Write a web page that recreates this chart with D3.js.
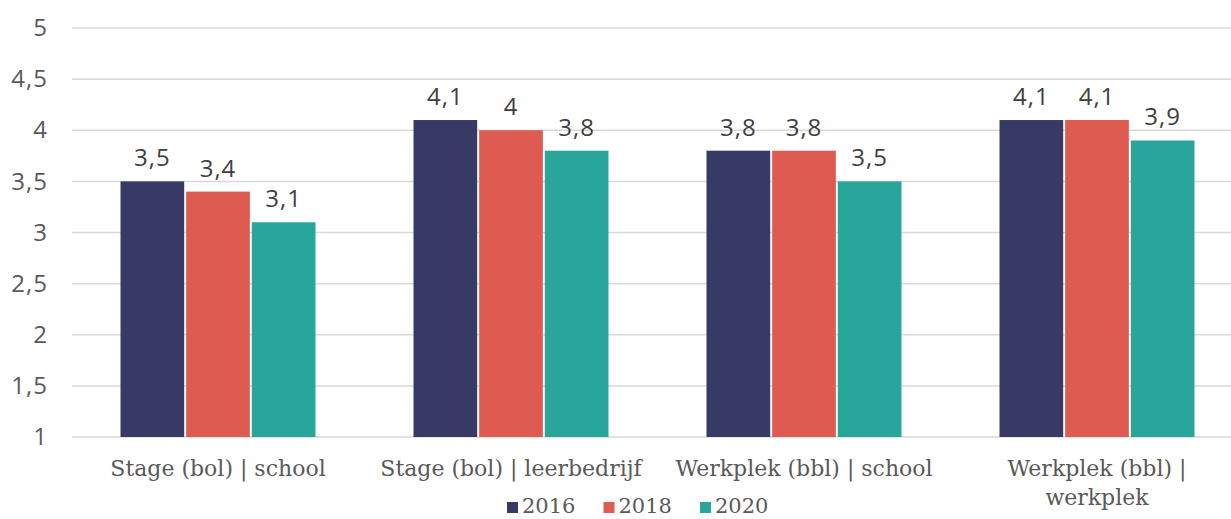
<!DOCTYPE html>
<html>
<head>
<meta charset="utf-8">
<script src="https://cdn.jsdelivr.net/npm/d3@7"></script>
<style>
  body { margin: 0; background: #fff; }
  svg { display: block; }
</style>
</head>
<body>
<div id="chart"></div>
<script>
'use strict';

var categories = [
    ['Stage (bol) | school'],
    ['Stage (bol) | leerbedrijf'],
    ['Werkplek (bbl) | school'],
    ['Werkplek (bbl) |', 'werkplek']
];
var years = ['2016', '2018', '2020'];
var values2016 = [3.5, 4.1, 3.8, 4.1];
var values2018 = [3.4, 4.0, 3.8, 4.1];
var values2020 = [3.1, 3.8, 3.5, 3.9];
var yTicks = [1, 1.5, 2, 2.5, 3, 3.5, 4, 4.5, 5];
var colors = ['#383a66', '#de5b51', '#29a69b'];

var series = [values2016, values2018, values2020];
var width = 1231;
var height = 519;
var sansFont = '"Open Sans", "Noto Sans", sans-serif';
var serifFont = '"DejaVu Serif", "Liberation Serif", serif';

var svg = d3.select('#chart').append('svg')
    .attr('width', width)
    .attr('height', height);

var x0 = d3.scaleBand()
    .domain(d3.range(categories.length))
    .range([71.5, 1243.5]);

var x1 = d3.scaleBand()
    .domain(d3.range(years.length))
    .range([0, 195])
    .paddingInner(0.03);

var y = d3.scaleLinear()
    .domain([1, 5])
    .range([437, 28]);

var comma = function (v) { return String(v).replace('.', ','); };

// gridlines
svg.append('g')
    .selectAll('line')
    .data(yTicks)
    .join('line')
    .attr('x1', 72)
    .attr('x2', width)
    .attr('y1', function (d) { return y(d); })
    .attr('y2', function (d) { return y(d); })
    .attr('stroke', '#d9d9d9')
    .attr('stroke-width', 1.5);

// y axis labels
var yAxis = d3.axisLeft(y)
    .tickValues(yTicks)
    .tickSize(0)
    .tickPadding(0)
    .tickFormat(comma);

svg.append('g')
    .attr('transform', 'translate(48,0)')
    .call(yAxis)
    .call(function (g) { g.select('.domain').remove(); })
    .selectAll('text')
    .attr('font-family', sansFont)
    .attr('font-size', 24)
    .attr('letter-spacing', 1)
    .attr('fill', '#595959');

// bars
var groups = svg.append('g')
    .selectAll('g')
    .data(categories)
    .join('g')
    .attr('transform', function (d, i) {
        return 'translate(' + (x0(i) + (x0.bandwidth() - 195) / 2) + ',0)';
    });

groups.selectAll('rect')
    .data(function (d, i) {
        return series.map(function (s, k) { return { k: k, v: s[i] }; });
    })
    .join('rect')
    .attr('x', function (d) { return x1(d.k); })
    .attr('y', function (d) { return y(d.v); })
    .attr('width', x1.bandwidth())
    .attr('height', function (d) { return y(1) - y(d.v); })
    .attr('fill', function (d) { return colors[d.k]; });

groups.selectAll('text.value')
    .data(function (d, i) {
        return series.map(function (s, k) { return { k: k, v: s[i] }; });
    })
    .join('text')
    .attr('class', 'value')
    .attr('x', function (d) { return x1(d.k) + x1.bandwidth() / 2; })
    .attr('y', function (d) { return y(d.v) - 15; })
    .attr('text-anchor', 'middle')
    .attr('font-family', sansFont)
    .attr('font-size', 24)
    .attr('letter-spacing', 1)
    .attr('fill', '#404040')
    .text(function (d) { return comma(d.v); });

// category labels
var catLabels = svg.append('g')
    .selectAll('text')
    .data(categories)
    .join('text')
    .attr('x', function (d, i) { return x0(i) + x0.bandwidth() / 2; })
    .attr('y', 476)
    .attr('text-anchor', 'middle')
    .attr('font-family', serifFont)
    .attr('font-size', 22)
    .attr('fill', '#595959');

catLabels.selectAll('tspan')
    .data(function (d) { return d; })
    .join('tspan')
    .attr('x', function () { return this.parentNode.getAttribute('x'); })
    .attr('dy', function (d, j) { return j === 0 ? 0 : 29; })
    .text(function (d) { return d; });

// legend
var legend = svg.append('g')
    .selectAll('g')
    .data(years)
    .join('g')
    .attr('transform', function (d, i) { return 'translate(' + (507 + i * 96.5) + ',0)'; });

legend.append('rect')
    .attr('x', 0)
    .attr('y', 502)
    .attr('width', 11)
    .attr('height', 11)
    .attr('fill', function (d, i) { return colors[i]; });

legend.append('text')
    .attr('x', 15)
    .attr('y', 513)
    .attr('font-family', serifFont)
    .attr('font-size', 21)
    .attr('fill', '#595959')
    .text(function (d) { return d; });
</script>
</body>
</html>
